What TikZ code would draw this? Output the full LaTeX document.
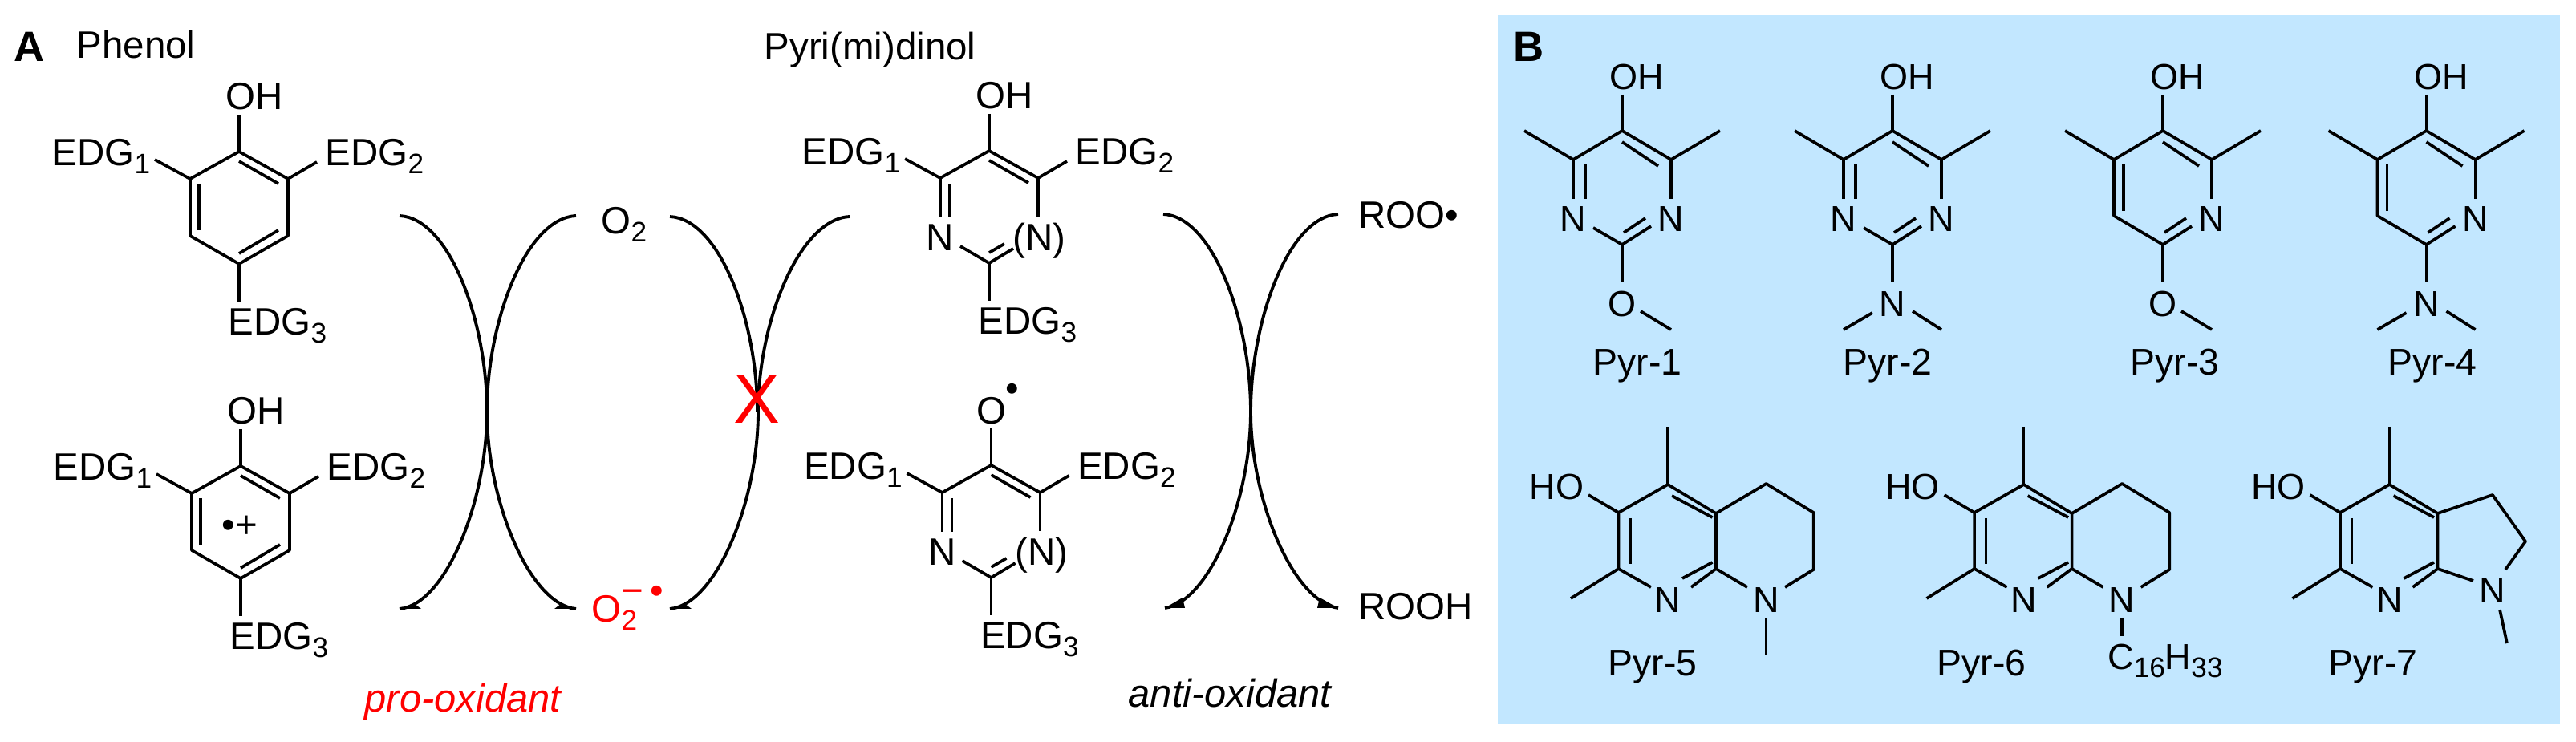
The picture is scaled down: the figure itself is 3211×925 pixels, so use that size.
\documentclass[tikz,border=0pt]{standalone}
\usepackage{fontspec}
\setmainfont{Liberation Sans}
\definecolor{panelblue}{HTML}{C2E7FF}
\newcommand{\txA}{\fontsize{13.5}{15}\selectfont}
\newcommand{\txB}{\fontsize{12.8}{15}\selectfont}
\newcommand{\txL}{\fontsize{13.2}{15}\selectfont}
\newcommand{\sbA}[1]{\raisebox{-2.8pt}{\fontsize{10}{12}\selectfont #1}}
\tikzset{
  x=0.01cm,y=-0.01cm,
  bond/.style={line width=1.05pt,line join=round},
  curly/.style={line width=1.1pt},
  tipfill/.style={fill=black,draw=none},
  lblA/.style={inner sep=0pt,font=\txA,anchor=base west},
  lblB/.style={inner sep=0pt,font=\txB,anchor=base west},
  lblP/.style={inner sep=0pt,font=\txL,anchor=base west},
  atomB/.style={inner sep=0pt,font=\txB,anchor=base},
  atomA/.style={inner sep=0pt,font=\txA,anchor=base},
  panelletter/.style={inner sep=0pt,font=\fontsize{15}{17}\selectfont\bfseries,anchor=base west},
  ital/.style={inner sep=0pt,font=\fontsize{13.9}{16}\selectfont\itshape,anchor=base west},
}
% Substituted ring, panel A: origin at top ring atom
\newcommand{\edgs}{%
  \draw[bond] (0,-46)--(0,0);
  \node[lblA] (e1) at (-234,18) {EDG\sbA{1}};
  \node[lblA] (e2) at (107,18) {EDG\sbA{2}};
  \node[lblA] (e3) at (-14,229) {EDG\sbA{3}};
  \draw[bond] (-105,10)--(-61,34);
  \draw[bond] (97,13)--(61,34);
  \draw[bond] (-61,34)--(0,0)--(61,34);
  \draw[bond] (0,12)--(49,40);
}
\newcommand{\phenolring}{%
  \edgs
  \draw[bond] (61,34)--(61,105)--(0,140)--(-61,105)--(-61,34);
  \draw[bond] (-50,40)--(-50,98);
  \draw[bond] (0,127)--(49,98);
  \draw[bond] (0,140)--(0,187);
}
\newcommand{\pyrimring}{%
  \edgs
  \draw[bond] (61,34)--(61,82);
  \draw[bond] (-61,34)--(-61,83);
  \draw[bond] (-49,41)--(-49,83);
  \node[atomA] (nl) at (-61,125) {N};
  \node[lblA] (nr) at (29,125) {(N)};
  \draw[bond] (-36,119)--(0,140)--(30,122);
  \draw[bond] (0,127)--(19,116);
  \draw[bond] (0,140)--(0,187);
}
% Panel B upper row: origin at top ring atom
\newcommand{\pyrtop}{%
  \node[lblB] (oh) at (-16,-51) {OH};
  \draw[bond] (0,-45)--(0,0);
  \draw[bond] (-61,36)--(0,0)--(61,36);
  \draw[bond] (0,14)--(45,44);
  \draw[bond] (-122,0)--(-61,36);
  \draw[bond] (122,0)--(61,36);
  \draw[bond] (61,36)--(61,85);
  \node[atomB] (nr) at (61,126) {N};
  \draw[bond] (0,142)--(36,119);
  \draw[bond] (2,127)--(29,109);
  \draw[bond] (0,142)--(0,189);
}
\newcommand{\pyrdiaz}{%
  \draw[bond] (-61,36)--(-61,85);
  \draw[bond] (-46,42)--(-46,85);
  \node[atomB] (nl) at (-61,126) {N};
  \draw[bond] (-36,121)--(0,142);
}
\newcommand{\pyrpyr}{%
  \draw[bond] (-61,36)--(-61,106)--(0,142);
  \draw[bond] (-49,42)--(-49,100);
}
\newcommand{\ometh}{%
  \node[atomB] (ox) at (0,232) {O};
  \draw[bond] (23,225)--(61,248);
}
\newcommand{\nme}{%
  \node[atomB] (nx) at (0,232) {N};
  \draw[bond] (-25,227)--(-61,248);
  \draw[bond] (25,225)--(61,248);
}
% Panel B lower row: origin at top ring atom
\newcommand{\pyrlow}{%
  \node[lblB] (ho) at (-173,19) {HO};
  \draw[bond] (-99,13)--(-61.5,35);
  \draw[bond] (0,-72)--(0,0);
  \draw[bond] (-61.5,105)--(-61.5,35)--(0,0)--(60,36)--(60,105);
  \draw[bond] (-47,42)--(-47,99);
  \draw[bond] (5,14)--(55.5,41);
  \draw[bond] (-61.5,105)--(-121,142);
  \draw[bond] (-61.5,105)--(-21,128);
  \node[atomB] (nl) at (0,160) {N};
  \draw[bond] (60,105)--(29,128);
  \draw[bond] (18,117)--(55.5,97);
}
\newcommand{\sixring}{%
  \draw[bond] (60,36)--(122.6,-1)--(181.6,35)--(181.6,106)--(146,128);
  \draw[bond] (60,105)--(99,128);
  \node[atomB] (nb) at (122.6,160) {N};
}
\begin{document}
\begin{tikzpicture}
\useasboundingbox (0,0) rectangle (3211,925);
\fill[panelblue] (1867,19) rectangle (3191,903);

\node[panelletter] (A) at (17,77) {A};
\node[panelletter] (B) at (1886,77) {B};
\node[lblA] (phen) at (95,73) {Phenol};
\node[lblA] (pyrd) at (952,75) {Pyri(mi)dinol};

% Phenol
\begin{scope}[shift={(298,189)}]
  \phenolring
  \node[lblA] (oh1) at (-17,-52) {OH};
\end{scope}
\begin{scope}[shift={(300,581)}]
  \phenolring
  \node[lblA] (oh2) at (-17,-52) {OH};
  \node[lblA] (rad) at (-24,90) {•+};
\end{scope}

% Pyri(mi)dinol
\begin{scope}[shift={(1233,188)}]
  \pyrimring
  \node[lblA] (oh3) at (-17,-52) {OH};
\end{scope}
\begin{scope}[shift={(1235.5,580)}]
  \pyrimring
  \node[atomA] (ox) at (0,-51) {O};
  \node[atomA] (oxr) at (26,-79) {•};
\end{scope}

% Species
\node[lblA] (o2) at (749,292) {O\sbA{2}};
\node[lblA,text=red] (o2r) at (737,776) {O\sbA{2}};
\node[lblA,text=red] (o2c) at (774,753) {−\kern2.3pt•};
\node[lblA] (roo) at (1693,285) {ROO•};
\node[lblA] (rooh) at (1693,773) {ROOH};
\node[ital,text=red] (pro) at (454,888) {pro-oxidant};
\node[ital] (anti) at (1406,882) {anti-oxidant};

% Curved arrows
\coordinate (a1s) at (498,269); \coordinate (a1m) at (607,513); \coordinate (a1e) at (498,759);
\coordinate (a2s) at (718,269); \coordinate (a2m) at (607,513); \coordinate (a2e) at (718,759);
\coordinate (a3s) at (835,270); \coordinate (a3m) at (944,513);
\coordinate (a4s) at (1059,270); \coordinate (a4m) at (945,513); \coordinate (a4e) at (835,759);
\coordinate (a5s) at (1450,267); \coordinate (a5m) at (1559,513); \coordinate (a5e) at (1452,758);
\coordinate (a6s) at (1668,267); \coordinate (a6m) at (1559,513); \coordinate (a6e) at (1668,758);

\draw[curly] (a1s) .. controls +(62,3) and +(0,-113) .. (a1m) .. controls +(0,113) and +(57,-5) .. (a1e);
\draw[curly] (a2s) .. controls +(-62,3) and +(0,-113) .. (a2m) .. controls +(0,113) and +(-57,-5) .. (a2e);
\draw[curly] (a3s) .. controls +(62,3) and +(0,-113) .. (a3m);
\draw[curly] (a4s) .. controls +(-62,3) and +(0,-113) .. (a4m) .. controls +(0,113) and +(57,-5) .. (a4e);
\draw[curly] (a5s) .. controls +(62,3) and +(0,-113) .. (a5m) .. controls +(0,113) and +(55,-8) .. (a5e);
\draw[curly] (a6s) .. controls +(-62,3) and +(0,-113) .. (a6m) .. controls +(0,113) and +(-55,-8) .. (a6e);

\fill[tipfill] (a1e) -- (525,759) -- (517,753) -- cycle;
\fill[tipfill] (a2e) -- (691,759) -- (699,753) -- cycle;
\fill[tipfill] (a4e) -- (862,759) -- (854,753) -- cycle;
\fill[tipfill] (a5e) -- (1474,745) -- (1477,758) -- cycle;
\fill[tipfill] (a6e) -- (1645,745) -- (1642,758) -- cycle;

\node[inner sep=0pt,anchor=base,text=red,font=\fontsize{24.7}{26}\selectfont] (blocked) at (943.5,528) {X};

% Panel B, upper row
\begin{scope}[shift={(2022,163)}]
  \pyrtop \pyrdiaz \ometh
  \node[lblP] (p1) at (-37,305) {Pyr-1};
\end{scope}
\begin{scope}[shift={(2359,163)}]
  \pyrtop \pyrdiaz \nme
  \node[lblP] (p2) at (-62,305) {Pyr-2};
\end{scope}
\begin{scope}[shift={(2696,163)}]
  \pyrtop \pyrpyr \ometh
  \node[lblP] (p3) at (-41,305) {Pyr-3};
\end{scope}
\begin{scope}[shift={(3024.5,163)}]
  \pyrtop \pyrpyr \nme
  \node[lblP] (p4) at (-48.5,305) {Pyr-4};
\end{scope}

% Panel B, lower row
\begin{scope}[shift={(2079,604)}]
  \pyrlow \sixring
  \draw[bond] (122.6,166)--(122.6,213);
  \node[lblP] (p5) at (-75,239) {Pyr-5};
\end{scope}
\begin{scope}[shift={(2522.6,604)}]
  \pyrlow \sixring
  \draw[bond] (122.6,166)--(122.6,189);
  \node[lblB] (c16) at (104,231) {C\sbA{16}H\sbA{33}};
  \node[lblP] (p6) at (-108.6,239) {Pyr-6};
\end{scope}
\begin{scope}[shift={(2978.5,604)}]
  \pyrlow
  \draw[bond] (60,36)--(128.5,13)--(169.5,71)--(144.5,106);
  \draw[bond] (60,105)--(104.5,120);
  \node[atomB] (nb) at (128.5,148) {N};
  \draw[bond] (137.5,156)--(146.5,198);
  \node[lblP] (p7) at (-76.5,239) {Pyr-7};
\end{scope}
\end{tikzpicture}
\end{document}
